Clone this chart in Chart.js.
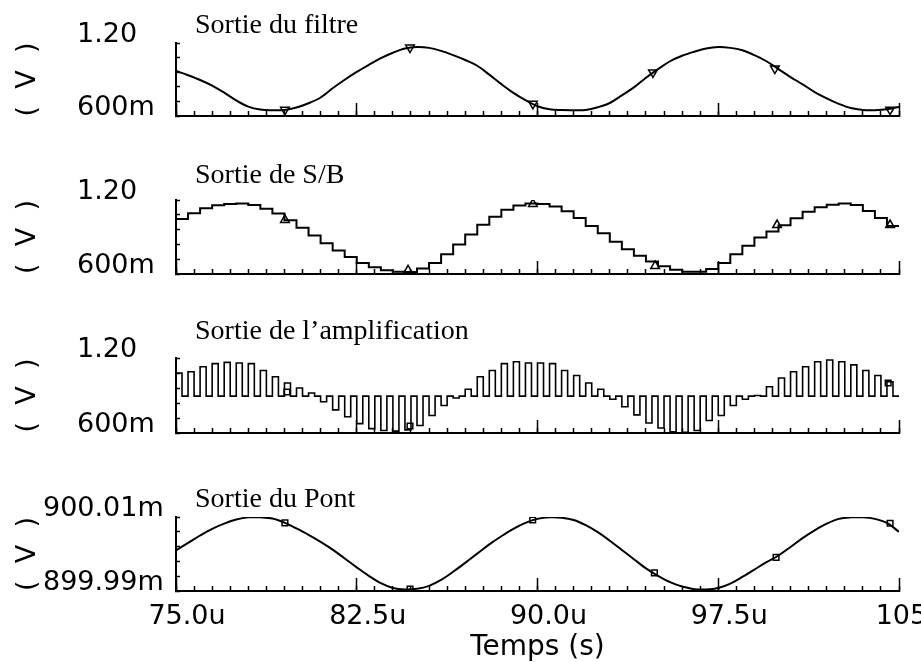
<!DOCTYPE html>
<html>
<head>
<meta charset="utf-8">
<script src="https://cdn.jsdelivr.net/npm/chart.js@4.4.1/dist/chart.umd.min.js"></script>
<style>
  html, body { margin: 0; padding: 0; background: #fff; width: 921px; height: 662px; overflow: hidden; }
  canvas { position: absolute; left: 0; top: 0; }
</style>
</head>
<body>
<canvas id="panelFilter" width="1000" height="662"></canvas>
<canvas id="panelSB" width="1000" height="662"></canvas>
<canvas id="panelAmp" width="1000" height="662"></canvas>
<canvas id="panelBridge" width="1000" height="662"></canvas>
<script>
// ---- time axis (microseconds) ----
const timeMin = 75;
const timeMax = 105;
const timeMajorTicks = [75, 82.5, 90, 97.5, 105];
const timeMajorLabels = ['75.0u', '82.5u', '90.0u', '97.5u', '105u'];
const timeMinorStep = 0.75;

// sample instants, every 0.5 us
const sampleTimes = [
  75.0, 75.5, 76.0, 76.5, 77.0, 77.5, 78.0, 78.5, 79.0, 79.5,
  80.0, 80.5, 81.0, 81.5, 82.0, 82.5, 83.0, 83.5, 84.0, 84.5,
  85.0, 85.5, 86.0, 86.5, 87.0, 87.5, 88.0, 88.5, 89.0, 89.5,
  90.0, 90.5, 91.0, 91.5, 92.0, 92.5, 93.0, 93.5, 94.0, 94.5,
  95.0, 95.5, 96.0, 96.5, 97.0, 97.5, 98.0, 98.5, 99.0, 99.5,
  100.0, 100.5, 101.0, 101.5, 102.0, 102.5, 103.0, 103.5, 104.0, 104.5,
  105.0
];

// Sortie du filtre (V)
const filterOut = [
  0.970, 0.935, 0.896, 0.850, 0.792, 0.728, 0.677, 0.653, 0.648, 0.650,
  0.670, 0.705, 0.752, 0.828, 0.898, 0.962, 1.020, 1.075, 1.120, 1.155,
  1.167, 1.160, 1.135, 1.100, 1.060, 1.013, 0.940, 0.862, 0.790, 0.730,
  0.680, 0.655, 0.649, 0.648, 0.650, 0.672, 0.707, 0.770, 0.835, 0.915,
  0.985, 1.050, 1.095, 1.128, 1.155, 1.167, 1.160, 1.140, 1.100, 1.050,
  0.985, 0.920, 0.860, 0.797, 0.745, 0.700, 0.665, 0.650, 0.648, 0.655,
  0.675
];
const filterMarkTimes = [79.52, 84.71, 89.81, 94.79, 99.85, 104.63];
const filterMarkValues = [0.651, 1.162, 0.700, 0.958, 0.990, 0.652];

// Sortie de S/B (V): held level from each sample instant
const sbOut = [
  1.046, 1.092, 1.133, 1.158, 1.168, 1.171, 1.160, 1.130, 1.090, 1.035,
  0.975, 0.912, 0.850, 0.790, 0.738, 0.690, 0.655, 0.630, 0.618, 0.617,
  0.645, 0.690, 0.760, 0.840, 0.920, 1.000, 1.065, 1.120, 1.155, 1.171,
  1.168, 1.148, 1.108, 1.055, 0.990, 0.930, 0.862, 0.800, 0.748, 0.702,
  0.662, 0.635, 0.619, 0.618, 0.640, 0.690, 0.760, 0.830, 0.895, 0.945,
  0.995, 1.052, 1.105, 1.141, 1.162, 1.171, 1.160, 1.110, 1.055, 0.990,
  0.990
];
const sbMarkTimes = [79.52, 84.63, 89.81, 94.88, 99.94, 104.63];
const sbMarkValues = [1.038, 0.630, 1.168, 0.665, 0.997, 0.997];

// Sortie de l'amplification (V): pulse level in each 0.5 us slot, then rest level
const ampPulse = [
  1.080, 1.090, 1.130, 1.155, 1.165, 1.160, 1.155, 1.100, 1.050, 1.000,
  0.960, 0.920, 0.850, 0.785, 0.730, 0.675, 0.635, 0.620, 0.615, 0.625,
  0.660, 0.740, 0.820, 0.880, 0.950, 1.050, 1.100, 1.155, 1.170, 1.160,
  1.160, 1.155, 1.100, 1.060, 1.000, 0.950, 0.870, 0.810, 0.745, 0.680,
  0.640, 0.610, 0.605, 0.620, 0.700, 0.740, 0.820, 0.870, 0.900, 0.970,
  1.040, 1.090, 1.130, 1.170, 1.184, 1.170, 1.145, 1.100, 1.060, 1.010
];
const ampRest = 0.895;
const ampMarkTimes = [79.6, 84.71, 104.55];
const ampMarkValues = [0.928, 0.656, 1.000];

// Sortie du Pont (V)
const bridgeOut = [
  0.9000010, 0.9000030, 0.9000050, 0.9000068, 0.9000082, 0.9000093, 0.9000099, 0.9000099, 0.9000096, 0.9000085,
  0.9000069, 0.9000052, 0.9000033, 0.9000012, 0.8999988, 0.8999964, 0.8999941, 0.8999921, 0.8999908, 0.8999904,
  0.8999906, 0.8999914, 0.8999930, 0.8999952, 0.8999976, 0.9000001, 0.9000026, 0.9000048, 0.9000068, 0.9000084,
  0.9000095, 0.9000099, 0.9000098, 0.9000092, 0.9000078, 0.9000059, 0.9000036, 0.9000011, 0.8999986, 0.8999961,
  0.8999941, 0.8999924, 0.8999912, 0.8999905, 0.8999904, 0.8999908, 0.8999920, 0.8999938, 0.8999958, 0.8999978,
  0.8999996, 0.9000019, 0.9000043, 0.9000064, 0.9000082, 0.9000095, 0.9000099, 0.9000099, 0.9000095, 0.9000084,
  0.9000060
];
const bridgeMarkTimes = [79.52, 84.71, 89.80, 94.85, 99.90, 104.63];
const bridgeMarkValues = [0.9000084, 0.8999905, 0.9000092, 0.8999949, 0.8999991, 0.9000083];

// vertical ranges and their end labels
const unitRange = [0.6, 1.2];
const unitRangeLabels = ['600m', '1.20'];
const bridgeRange = [0.89999, 0.90001];
const bridgeRangeLabels = ['899.99m', '900.01m'];

// ---- drawing ----
const INK = '#000';
const SANS = '"DejaVu Sans", sans-serif';
const SERIF = '"Liberation Serif", "Times New Roman", serif';
const CANVAS_W = 1000, CANVAS_H = 662;
const PLOT_LEFT = 176, PLOT_RIGHT = 899;

const panelCaption = {
  id: 'panelCaption',
  afterDraw(chart, args, opts) {
    const { ctx, chartArea } = chart;
    ctx.save();
    ctx.font = opts.font;
    ctx.fillStyle = INK;
    ctx.textAlign = 'left';
    ctx.textBaseline = 'alphabetic';
    ctx.fillText(opts.text, chartArea.left + opts.dx, chartArea.top - opts.dy);
    ctx.restore();
  }
};

function pairs(xs, ys) {
  return ys.map((y, i) => ({ x: xs[i], y }));
}

function markerSet(xs, ys, style, radius, rotation) {
  return {
    data: pairs(xs, ys),
    showLine: false,
    pointStyle: style,
    pointRadius: radius,
    pointRotation: rotation || 0,
    pointBorderColor: INK,
    pointBackgroundColor: 'rgba(255,255,255,0)',
    pointBorderWidth: 1.5
  };
}

function makePanel(id, spec) {
  const [yMin, yMax] = spec.range;
  const xBlock = spec.showTime ? 71 : 0;
  return new Chart(document.getElementById(id), {
    type: 'line',
    data: { datasets: spec.datasets },
    options: {
      responsive: false,
      animation: false,
      events: [],
      layout: {
        padding: {
          left: 0,
          right: CANVAS_W - PLOT_RIGHT,
          top: spec.top,
          bottom: CANVAS_H - spec.bottom - xBlock
        }
      },
      elements: {
        line: { borderColor: INK, borderWidth: 2, tension: 0, fill: false },
        point: { radius: 0 }
      },
      plugins: {
        legend: { display: false },
        tooltip: { enabled: false },
        panelCaption: { text: spec.caption, dx: 19, dy: spec.captionGap, font: '28px ' + SERIF }
      },
      scales: {
        x: {
          type: 'linear',
          position: 'bottom',
          weight: 1,
          min: timeMin,
          max: timeMax,
          afterBuildTicks: s => { s.ticks = timeMajorTicks.map(v => ({ value: v })); },
          afterFit: s => { s.height = xBlock; },
          border: { display: true, color: INK, width: 2 },
          grid: { drawOnChartArea: false, drawTicks: true, tickLength: -13, tickWidth: 1.5, tickColor: INK, color: INK },
          ticks: {
            display: !!spec.showTime,
            autoSkip: false,
            maxRotation: 0,
            padding: 23,
            labelOffset: 11,
            color: INK,
            font: { family: SANS, size: 27 },
            callback: (v, i) => timeMajorLabels[i]
          },
          title: {
            display: !!spec.showTime,
            text: 'Temps (s)',
            color: INK,
            font: { family: SANS, size: 28, lineHeight: 1.0 },
            padding: { top: 0, bottom: 0 }
          }
        },
        xMinor: {
          type: 'linear',
          position: 'bottom',
          weight: 0,
          min: timeMin,
          max: timeMax,
          afterBuildTicks: s => {
            const n = Math.round((timeMax - timeMin) / timeMinorStep);
            const t = [];
            for (let i = 0; i <= n; i++) t.push({ value: timeMin + i * timeMinorStep });
            s.ticks = t;
          },
          afterFit: s => { s.height = 0; },
          border: { display: false },
          grid: { drawOnChartArea: false, drawTicks: true, tickLength: -5, tickWidth: 1.5, tickColor: INK, color: INK },
          ticks: { display: false, autoSkip: false }
        },
        y: {
          type: 'linear',
          position: 'left',
          weight: 0,
          min: yMin,
          max: yMax,
          afterBuildTicks: s => {
            const t = [];
            for (let i = 0; i <= 5; i++) t.push({ value: yMin + (yMax - yMin) * i / 5 });
            s.ticks = t;
          },
          afterFit: s => { s.width = PLOT_LEFT - spec.labelCol; },
          border: { display: true, color: INK, width: 2 },
          grid: { drawOnChartArea: false, drawTicks: true, tickLength: -4, tickWidth: 1.5, tickColor: INK, color: INK },
          ticks: {
            autoSkip: false,
            crossAlign: 'far',
            labelOffset: -8,
            color: INK,
            font: { family: SANS, size: 27 },
            callback: (v, i, all) => i === 0 ? spec.rangeLabels[0] : (i === all.length - 1 ? spec.rangeLabels[1] : '')
          }
        },
        yUnit: {
          type: 'linear',
          position: 'left',
          weight: 1,
          afterFit: s => { s.width = spec.labelCol; },
          border: { display: false },
          grid: { display: false },
          ticks: { display: false },
          title: {
            display: true,
            text: '(  V  )',
            color: INK,
            font: { family: SANS, size: 27 },
            padding: { top: 12, bottom: 0 }
          }
        }
      }
    },
    plugins: [panelCaption]
  });
}

// Sortie du filtre
makePanel('panelFilter', {
  top: 43, bottom: 116, captionGap: 10, labelCol: 77,
  range: unitRange, rangeLabels: unitRangeLabels,
  caption: 'Sortie du filtre',
  datasets: [
    { data: pairs(sampleTimes, filterOut), tension: 0.35, borderWidth: 2 },
    markerSet(filterMarkTimes, filterMarkValues, 'triangle', 5, 180)
  ]
});

// Sortie de S/B
makePanel('panelSB', {
  top: 200, bottom: 274, captionGap: 17, labelCol: 77,
  range: unitRange, rangeLabels: unitRangeLabels,
  caption: 'Sortie de S/B',
  datasets: [
    { data: pairs(sampleTimes, sbOut), stepped: 'before', borderWidth: 2 },
    markerSet(sbMarkTimes, sbMarkValues, 'triangle', 5, 0)
  ]
});

// Sortie de l'amplification: each slot starts at its pulse level and returns to rest at mid-slot
const ampPoints = [];
ampPulse.forEach((p, k) => {
  const t0 = sampleTimes[k];
  const t1 = sampleTimes[k + 1];
  ampPoints.push({ x: t0, y: p });
  ampPoints.push({ x: (t0 + t1) / 2, y: ampRest });
});
ampPoints.push({ x: sampleTimes[sampleTimes.length - 1], y: ampRest });

makePanel('panelAmp', {
  top: 358, bottom: 433, captionGap: 19, labelCol: 77,
  range: unitRange, rangeLabels: unitRangeLabels,
  caption: 'Sortie de l\u2019amplification',
  datasets: [
    { data: ampPoints, stepped: 'before', borderWidth: 1.6 },
    markerSet(ampMarkTimes, ampMarkValues, 'rect', 4, 0)
  ]
});

// Sortie du Pont
makePanel('panelBridge', {
  top: 517, bottom: 591, captionGap: 10, labelCol: 43, showTime: true,
  range: bridgeRange, rangeLabels: bridgeRangeLabels,
  caption: 'Sortie du Pont',
  datasets: [
    { data: pairs(sampleTimes, bridgeOut), tension: 0.35, borderWidth: 2 },
    markerSet(bridgeMarkTimes, bridgeMarkValues, 'rect', 4, 0)
  ]
});
</script>
</body>
</html>
